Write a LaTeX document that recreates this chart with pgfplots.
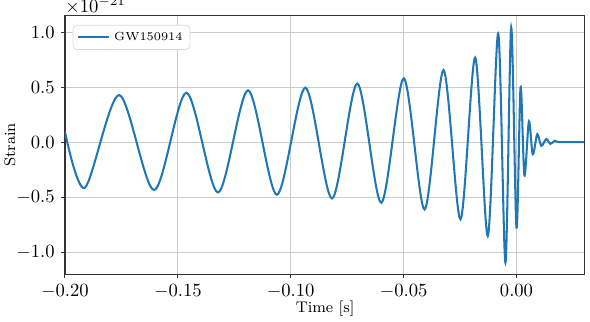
\documentclass[border=0pt]{standalone}
\usepackage{pgfplots}
\pgfplotsset{compat=1.18}
\definecolor{tabblue}{RGB}{31,119,180}
\begin{document}
\begin{tikzpicture}
\begin{axis}[
  at={(0,0)}, anchor=south west,
  scale only axis,
  width=279pt, height=138.9pt,
  xmin=-0.2, xmax=0.03,
  ymin=-1.20, ymax=1.157,
  clip mode=individual,
  xtick={-0.2,-0.15,-0.1,-0.05,0},
  ytick={-1,-0.5,0,0.5,1},
  xticklabel style={/pgf/number format/.cd,fixed,fixed zerofill,precision=2},
  yticklabel style={/pgf/number format/.cd,fixed,fixed zerofill,precision=1},
  scaled x ticks=false, scaled y ticks=false,
  tick label style={font=\fontsize{10.2}{12}\selectfont},
  tick align=outside, tick pos=left,
  major tick length=2pt,
  every tick/.style={black!80, line width=0.5pt},
  axis line style={black!80, line width=0.6pt},
  grid=major,
  major grid style={black!20, line width=0.5pt},
  xlabel={Time [s]}, ylabel={Strain},
  label style={font=\fontsize{8.3}{10}\selectfont},
  xlabel style={at={(axis description cs:0.501,-0.135)}, anchor=center},
  ylabel style={at={(axis description cs:-0.106,0.5)}, anchor=center},
  legend style={at={(rel axis cs:0,1)}, anchor=north west, xshift=4.1pt, yshift=-5pt,
    draw=black!15, rounded corners=2pt, font=\fontsize{6.3}{8}\selectfont,
    inner xsep=2pt, inner ysep=1.5pt},
  legend cell align=left,
]
\addplot[tabblue, line width=1.1pt, smooth, tension=0.5] coordinates {
(-0.2000,0.10) (-0.1912,-0.412) (-0.1760,0.433)
(-0.1605,-0.433) (-0.1462,0.454)
(-0.1322,-0.455) (-0.1189,0.476) (-0.1061,-0.476)
(-0.0935,0.500) (-0.0817,-0.510)
(-0.0705,0.537) (-0.0599,-0.549) (-0.0499,0.585)
(-0.0407,-0.610) (-0.0323,0.660)
(-0.0248,-0.700) (-0.0183,0.774) (-0.0127,-0.852)
(-0.0081,0.996) (-0.0049,-1.095)
(-0.00235,1.05) (0.0000,-0.776) (0.0018,0.503)
(0.0035,-0.300) (0.0055,0.194)
(0.0072,-0.107) (0.0092,0.076) (0.0110,-0.030)
(0.0132,0.032) (0.0150,-0.012)
(0.0170,0.016) (0.0190,0.004) (0.0300,0.004)
};
\addlegendentry{GW150914}
\node[anchor=south west, inner sep=0pt, yshift=0.9pt, font=\fontsize{10.2}{12}\selectfont] at (rel axis cs:0,1) {$\times10^{-21}$};
\end{axis}
\pgfresetboundingbox
\path[use as bounding box] (-34.9pt,-25.3pt) rectangle (282.1pt,147.3pt);
\end{tikzpicture}
\end{document}
